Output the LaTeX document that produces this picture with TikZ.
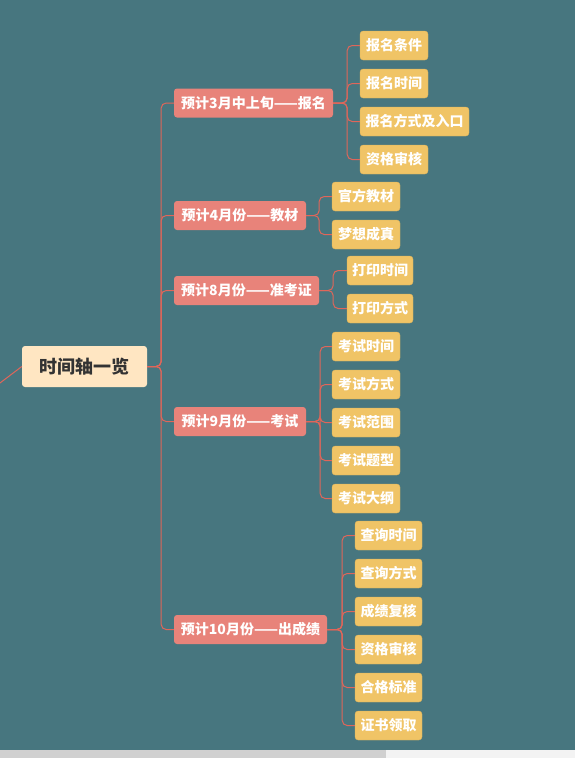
\documentclass[tikz,border=0pt]{standalone}
\usepackage{fontspec}
\setmainfont{Noto Sans CJK SC}
\definecolor{bgc}{HTML}{47767F}
\definecolor{rootc}{HTML}{FFE6C2}
\definecolor{roott}{HTML}{333333}
\definecolor{branchc}{HTML}{E8837A}
\definecolor{leafc}{HTML}{F0C466}
\definecolor{linec}{HTML}{E0665A}
\begin{document}
\begin{tikzpicture}[x=1pt,y=-1pt,
 conn/.style={draw=linec, line width=1pt, rounded corners=5pt},
 rootbox/.style={fill=rootc, rounded corners=3pt, text=roott, font=\fontsize{18}{20}\selectfont\bfseries, minimum height=41pt, inner sep=0pt},
 branchbox/.style={fill=branchc, rounded corners=3pt, text=white, font=\fontsize{14}{16}\selectfont\bfseries, minimum height=29pt, inner sep=0pt},
 leafbox/.style={fill=leafc, draw=leafc!90!black, line width=0.3pt, rounded corners=3pt, text=white, font=\fontsize{14}{16}\selectfont\bfseries, minimum height=29pt, inner sep=0pt}]
\useasboundingbox (0,0) rectangle (575,758);
\fill[bgc] (0,0) rectangle (575,758);
% scrollbar
\fill[fill={rgb,255:red,208;green,208;blue,208}] (0,750) rectangle (386,758);
\fill[fill={rgb,255:red,243;green,243;blue,243}] (386,750) rectangle (575,758);

\node[rootbox, minimum width=125pt] (root) at (84.5,366.5) {时间轴一览};
\coordinate (edge) at (0,383);
\draw[conn] (edge) -- (root.west);

\node[branchbox, minimum width=159pt] (b1) at (253.5,103) {预计3月中上旬——报名};
\node[branchbox, minimum width=132pt] (b2) at (240,215.5) {预计4月份——教材};
\node[branchbox, minimum width=145pt] (b3) at (246.5,290.5) {预计8月份——准考证};
\node[branchbox, minimum width=132pt] (b4) at (240,421.5) {预计9月份——考试};
\node[branchbox, minimum width=153pt] (b5) at (250.5,629.5) {预计10月份——出成绩};

\foreach \b in {b1,b2,b3,b4,b5}{
  \draw[conn] (root.east) -- ++(14,0) |- (\b.west);
}

% group 1
\node[leafbox, minimum width=68pt] (l11) at (394,45.5) {报名条件};
\node[leafbox, minimum width=68pt] (l12) at (394,83.5) {报名时间};
\node[leafbox, minimum width=109pt] (l13) at (414.5,121.5) {报名方式及入口};
\node[leafbox, minimum width=68pt] (l14) at (394,159.5) {资格审核};
\foreach \l in {l11,l12,l13,l14}{\draw[conn] (b1.east) -- ++(14,0) |- (\l.west);}

% group 2
\node[leafbox, minimum width=68pt] (l21) at (366,196.5) {官方教材};
\node[leafbox, minimum width=68pt] (l22) at (366,234.5) {梦想成真};
\foreach \l in {l21,l22}{\draw[conn] (b2.east) -- ++(13,0) |- (\l.west);}

% group 3
\node[leafbox, minimum width=66pt] (l31) at (380,270.5) {打印时间};
\node[leafbox, minimum width=66pt] (l32) at (380,308.5) {打印方式};
\foreach \l in {l31,l32}{\draw[conn] (b3.east) -- ++(14,0) |- (\l.west);}

% group 4
\node[leafbox, minimum width=68pt] (l41) at (366,346.5) {考试时间};
\node[leafbox, minimum width=68pt] (l42) at (366,384.5) {考试方式};
\node[leafbox, minimum width=68pt] (l43) at (366,422.5) {考试范围};
\node[leafbox, minimum width=68pt] (l44) at (366,460.5) {考试题型};
\node[leafbox, minimum width=68pt] (l45) at (366,498.5) {考试大纲};
\foreach \l in {l41,l42,l43,l44,l45}{\draw[conn] (b4.east) -- ++(14,0) |- (\l.west);}

% group 5
\node[leafbox, minimum width=67pt] (l51) at (388.5,535.5) {查询时间};
\node[leafbox, minimum width=67pt] (l52) at (388.5,573.5) {查询方式};
\node[leafbox, minimum width=67pt] (l53) at (388.5,611.5) {成绩复核};
\node[leafbox, minimum width=67pt] (l54) at (388.5,649.5) {资格审核};
\node[leafbox, minimum width=67pt] (l55) at (388.5,687.5) {合格标准};
\node[leafbox, minimum width=67pt] (l56) at (388.5,725.5) {证书领取};
\foreach \l in {l51,l52,l53,l54,l55,l56}{\draw[conn] (b5.east) -- ++(15,0) |- (\l.west);}
\end{tikzpicture}
\end{document}
